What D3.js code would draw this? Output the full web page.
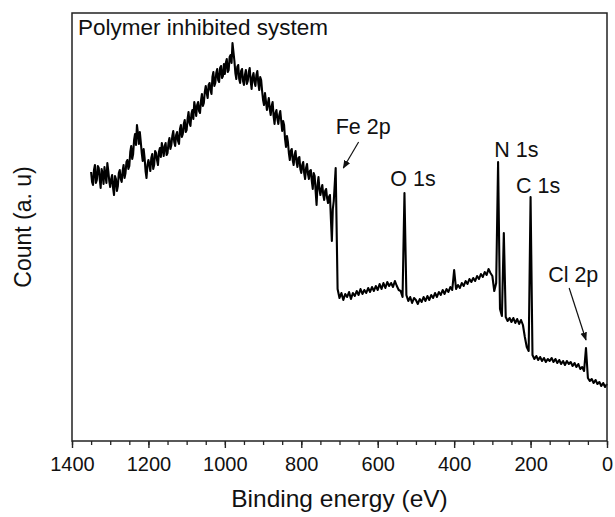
<!DOCTYPE html>
<html>
<head>
<meta charset="utf-8">
<script src="https://cdn.jsdelivr.net/npm/d3@7"></script>
<style>
  html, body { margin: 0; padding: 0; background: #fff; }
  svg { display: block; }
  text { font-family: "Liberation Sans", Arial, sans-serif; fill: #111; }
</style>
</head>
<body>
<svg id="chart" width="615" height="517"></svg>
<script>
// ---- data ----
// main readings, every 5 eV from 1350 eV down to 0 eV
const energyStart = 1350, energyStep = 5;
const counts = [
  269,256,276,261,273,253,267,274,258,270,
  254,266,246,262,255,271,259,276,268,281,
  275,295,287,307,316,297,299,280,283,263,
  281,270,287,276,288,276,293,298,285,298,
  288,303,296,310,295,309,297,316,307,321,
  311,329,315,331,339,325,339,328,347,338,
  355,343,358,347,369,358,372,359,375,365,
  367,382,371,386,398,380,362,376,358,372,
  356,371,360,373,352,368,355,370,351,361,
  341,348,331,343,326,339,317,331,317,330,
  310,316,294,299,281,292,276,290,274,284,
  268,279,262,277,262,271,252,265,236,264,
  246,256,241,252,238,246,200,240,273,152,
  143,148,141,147,144,149,142,148,145,150,
  146,152,147,151,148,153,149,154,150,155,
  151,157,152,158,153,159,155,158,154,160,
  155,151,150,144,248,146,140,144,138,143,
  141,137,142,139,144,140,145,141,146,143,
  148,144,149,146,151,147,152,149,154,151,
  171,152,156,153,158,155,160,157,162,159,
  163,160,165,162,167,164,169,166,172,168,
  165,150,158,279,132,125,208,124,120,123,
  119,123,118,122,117,121,116,104,94,90,
  244,86,82,85,81,84,80,83,79,82,
  80,83,79,82,78,81,77,80,76,80,
  77,79,75,78,74,77,72,74,70,93,
  63,60,62,58,61,57,59,55,58,54,57
];
// extra readings in the noisy high-energy region, from 1347.5 eV down to 717.5 eV
const halfStart = 1347.5;
const countsHalf = [
  259,271,258,275,262,272,257,266,278,260,
  262,253,265,250,268,262,270,263,279,272,
  289,282,301,296,308,309,288,292,270,276,
  276,283,272,290,281,289,284,292,295,286,
  298,292,305,299,306,300,312,304,317,309,
  322,318,327,322,333,336,330,340,335,349,
  348,356,351,364,355,368,361,373,363,377,
  378,369,384,378,389,368,374,362,370,360,
  366,357,369,360,364,359,366,358,364,350,
  336,340,337,332,335,325,328,322,326,320,
  320,302,305,288,290,281,286,279,283,272,
  276,268,273,267,270,260,268,250,256,252,
  252,246,250,243,244,222,232
];

const majorTicks = [1400, 1200, 1000, 800, 600, 400, 200, 0];
const minorTicks = d3.range(1400, -1, -50);

const peakLabels = ["Fe 2p", "O 1s", "N 1s", "C 1s", "Cl 2p"];
const labelEnergy = [710, 567, 295, 238, 154];
const labelCount = [307, 255, 284, 248, 159];

const arrowFrom = [[650, 299], [99, 153]];
const arrowTo = [[690, 273], [55, 101]];

const title = "Polymer inhibited system";
const xTitle = "Binding energy (eV)";
const yTitle = "Count (a. u)";

// ---- merge readings ----
const spectrum = counts.map((c, i) => ({ e: energyStart - i * energyStep, c }))
  .concat(countsHalf.map((c, i) => ({ e: halfStart - i * energyStep, c })))
  .sort((a, b) => b.e - a.e);

// ---- layout ----
const L = 72, R = 607, T = 13, B = 441;
const svg = d3.select("#chart");

const x = d3.scaleLinear().domain([1400, 0]).range([L, R]);
const y = d3.scaleLinear().domain([0, 428]).range([B, T]);

svg.append("defs").append("marker")
  .attr("id", "ah").attr("viewBox", "0 0 10 10")
  .attr("refX", 9).attr("refY", 5)
  .attr("markerWidth", 7).attr("markerHeight", 7)
  .attr("orient", "auto")
  .append("path").attr("d", "M0,1 L10,5 L0,9 Z").attr("fill", "#111");

// spectrum
const line = d3.line().x(d => x(d.e)).y(d => y(d.c));
svg.append("path")
  .datum(spectrum)
  .attr("d", line)
  .attr("fill", "none")
  .attr("stroke", "#000")
  .attr("stroke-width", 2.1)
  .attr("stroke-linejoin", "round");

// frame
svg.append("rect")
  .attr("x", L).attr("y", T).attr("width", R - L).attr("height", B - T)
  .attr("fill", "none").attr("stroke", "#222").attr("stroke-width", 1.5);

// axes
const minorAxis = d3.axisBottom(x).tickValues(minorTicks).tickSize(4).tickSizeOuter(0).tickFormat("");
const gMin = svg.append("g").attr("transform", `translate(0,${B})`).call(minorAxis);
gMin.select(".domain").remove();
gMin.selectAll("line").attr("stroke", "#222").attr("stroke-width", 1.3);

const majorAxis = d3.axisBottom(x).tickValues(majorTicks).tickSize(7)
  .tickSizeOuter(0).tickPadding(9).tickFormat(d3.format("d"));
const gMaj = svg.append("g").attr("transform", `translate(0,${B})`).call(majorAxis);
gMaj.select(".domain").remove();
gMaj.selectAll("line").attr("stroke", "#222").attr("stroke-width", 1.4);
gMaj.selectAll("text")
  .attr("font-family", "Liberation Sans, Arial, sans-serif")
  .attr("font-size", 20).attr("fill", "#111");

// titles
svg.append("text").attr("x", L + 6).attr("y", T + 22)
  .attr("font-size", 22.5).text(title);
svg.append("text").attr("x", (L + R) / 2).attr("y", 507)
  .attr("text-anchor", "middle").attr("font-size", 24.5).text(xTitle);
svg.append("text")
  .attr("transform", `translate(31,${(T + B) / 2}) rotate(-90)`)
  .attr("text-anchor", "middle").attr("font-size", 23).text(yTitle);

// peak labels
peakLabels.forEach((t, i) => {
  svg.append("text").attr("x", x(labelEnergy[i])).attr("y", y(labelCount[i]))
    .attr("font-size", 21.5).text(t);
});

// arrows
arrowFrom.forEach((f, i) => {
  svg.append("line")
    .attr("x1", x(f[0])).attr("y1", y(f[1]))
    .attr("x2", x(arrowTo[i][0])).attr("y2", y(arrowTo[i][1]))
    .attr("stroke", "#111").attr("stroke-width", 1.2)
    .attr("marker-end", "url(#ah)");
});
</script>
</body>
</html>
